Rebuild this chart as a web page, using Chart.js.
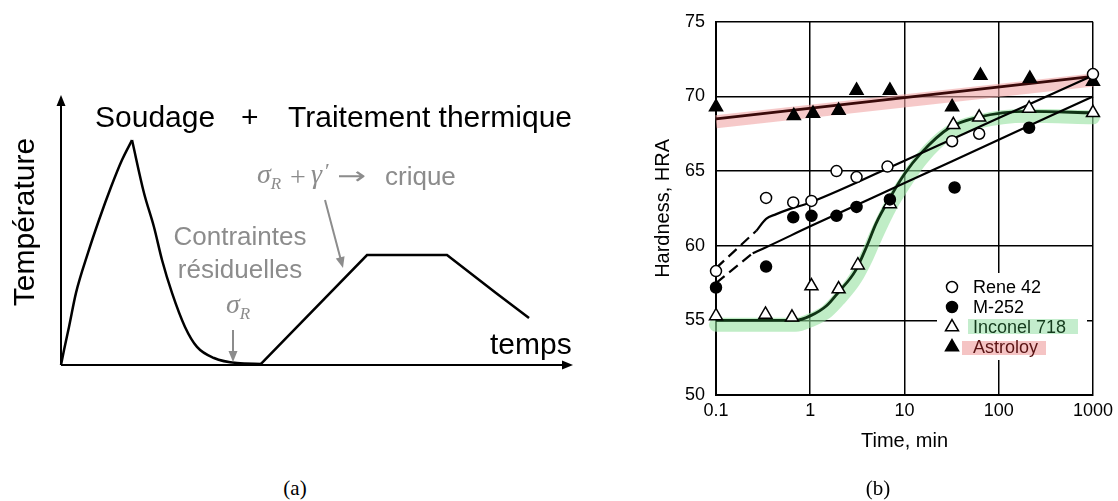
<!DOCTYPE html>
<html>
<head>
<meta charset="utf-8">
<script src="https://cdn.jsdelivr.net/npm/chart.js@4.4.1/dist/chart.umd.min.js"></script>
<style>
  html, body { margin: 0; padding: 0; background: #fff; }
  body { width: 1118px; height: 501px; position: relative; overflow: hidden; }
  #chartA { position: absolute; left: 0; top: 0; }
  #chartB { position: absolute; left: 620px; top: 0; }
  .cap { position: absolute; top: 476px; width: 60px; text-align: center;
         font-family: 'Liberation Serif', serif; font-size: 21px; line-height: 24px; color: #000; }
</style>
</head>
<body>
<canvas id="chartA" width="600" height="460"></canvas>
<canvas id="chartB" width="498" height="501"></canvas>
<div class="cap" style="left:265px">(a)</div>
<div class="cap" style="left:848px">(b)</div>

<script>
// ---- (a) schematic, arbitrary units (0-100 on both axes) ----
const weldRiseTime = [0, 0.59, 1.56, 2.93, 5.27, 7.42, 9.77, 11.91, 13.87];
const weldRiseTemp = [0, 5.6, 14.1, 26.7, 41.5, 53.7, 65.9, 75.9, 83.3];
const weldFallTime = [13.87, 16.21, 18.16, 19.73, 21.68, 24.22, 26.56, 29.88, 34.38, 39.06];
const weldFallTemp = [83.3, 63.7, 51.1, 38.9, 26.7, 14.1, 6.7, 2.6, 0.7, 0.4];
const heatTime = [39.06, 59.77, 75.39, 84.96, 91.41];
const heatTemp = [0.4, 40.7, 40.7, 26.7, 17.4];

// ---- (b) hardness vs time ----
const xTickValues = [0.1, 1, 10, 100, 1000];
const xTickLabels = ['0.1', '1', '10', '100', '1000'];

const reneTime = [0.1, 0.34, 0.66, 1.03, 1.9, 3.1, 6.6, 32, 62, 1000];
const reneHRA = [58.3, 63.2, 62.9, 63.0, 65.0, 64.6, 65.3, 67.0, 67.5, 71.5];
const m252Time = [0.1, 0.34, 0.66, 1.03, 1.9, 3.1, 7.0, 34, 210];
const m252HRA = [57.2, 58.6, 61.9, 62.0, 62.0, 62.6, 63.1, 63.9, 67.9];
const inconelTime = [0.1, 0.335, 0.64, 1.03, 2.0, 3.2, 7.0, 33, 62, 210, 1000];
const inconelHRA = [55.3, 55.4, 55.2, 57.3, 57.1, 58.7, 62.8, 68.1, 68.6, 69.2, 68.9];
const astroTime = [0.1, 0.67, 1.07, 2.0, 3.1, 7.0, 32, 64, 214, 1000];
const astroHRA = [69.3, 68.7, 68.85, 69.05, 70.4, 70.4, 69.3, 71.4, 71.2, 71.0];

// fitted curves
const reneDashTime = [0.1, 0.268];
const reneDashHRA = [58.5, 61.0];
const reneFitTime = [0.268, 0.34, 0.43, 0.6, 1, 10, 100, 1000];
const reneFitHRA = [61.0, 61.8, 62.1, 62.45, 62.9, 65.7, 68.55, 71.4];
const m252DashTime = [0.1, 0.245];
const m252DashHRA = [57.5, 59.5];
const m252FitTime = [0.245, 0.34, 1, 10, 100, 1000];
const m252FitHRA = [59.5, 59.9, 61.3, 64.2, 67.1, 70.0];
const inconelFitTime = [0.1, 0.7, 1.0, 1.5, 2.0, 3.0, 4.0, 5.0, 7.0, 10, 15, 30, 60, 200, 1000];
const inconelFitHRA = [55.0, 55.0, 55.3, 56.0, 56.9, 58.3, 60.0, 61.5, 63.2, 64.8, 66.2, 67.9, 68.6, 69.0, 68.9];
const inconelBandHRA = [54.7, 54.7, 55.0, 55.6, 56.4, 57.8, 59.3, 60.7, 62.6, 64.2, 65.8, 67.6, 68.3, 68.7, 68.6];
const astroFitTime = [0.1, 1000];
const astroFitHRA = [68.5, 71.35];
const astroBandHRA = [68.3, 71.1];

const legendNames = ['Rene 42', 'M-252', 'Inconel 718', 'Astroloy'];

function pts(xs, ys) {
  return xs.map((x, i) => ({ x: x, y: ys[i] }));
}

function arrow(ctx, x1, y1, x2, y2, len, half) {
  const a = Math.atan2(y2 - y1, x2 - x1);
  ctx.beginPath();
  ctx.moveTo(x1, y1);
  ctx.lineTo(x2 - Math.cos(a) * len * 0.8, y2 - Math.sin(a) * len * 0.8);
  ctx.stroke();
  ctx.beginPath();
  ctx.moveTo(x2, y2);
  ctx.lineTo(x2 - Math.cos(a) * len - Math.sin(a) * half, y2 - Math.sin(a) * len + Math.cos(a) * half);
  ctx.lineTo(x2 - Math.cos(a) * len + Math.sin(a) * half, y2 - Math.sin(a) * len - Math.cos(a) * half);
  ctx.closePath();
  ctx.fill();
}

function sigmaR(ctx, x, y) {
  ctx.font = 'italic 28px "Liberation Serif"';
  ctx.fillText('σ', x, y);
  const w = ctx.measureText('σ').width;
  ctx.font = 'italic 17px "Liberation Serif"';
  ctx.fillText('R', x + w, y + 6);
  return x + w + ctx.measureText('R').width;
}

const sketchPlugin = {
  id: 'sketch',
  afterDraw(chart) {
    const ctx = chart.ctx;
    const a = chart.chartArea;
    ctx.save();
    // axes with arrow heads
    ctx.strokeStyle = '#000';
    ctx.fillStyle = '#000';
    ctx.lineWidth = 2;
    arrow(ctx, a.left, a.bottom, a.left, a.top, 11, 4.5);
    arrow(ctx, a.left, a.bottom, a.right, a.bottom, 11, 4.5);

    ctx.textBaseline = 'alphabetic';
    ctx.font = '30px "Liberation Sans"';
    ctx.fillText('Soudage', 95, 127);
    ctx.fillText('+', 241, 127);
    ctx.fillText('Traitement thermique', 288, 127);
    ctx.fillText('temps', 490, 354);

    ctx.save();
    ctx.translate(34, 222);
    ctx.rotate(-Math.PI / 2);
    ctx.textAlign = 'center';
    ctx.fillText('Température', 0, 0);
    ctx.restore();

    // grey annotations
    const grey = '#8c8c8c';
    ctx.fillStyle = grey;
    ctx.strokeStyle = grey;
    ctx.textAlign = 'center';
    ctx.font = '26px "Liberation Sans"';
    ctx.fillText('Contraintes', 240, 245);
    ctx.fillText('résiduelles', 240, 278);
    ctx.textAlign = 'left';
    sigmaR(ctx, 226, 313);

    sigmaR(ctx, 257, 183);
    ctx.font = '28px "Liberation Serif"';
    ctx.fillText('+', 290, 186);
    ctx.font = 'italic 28px "Liberation Serif"';
    ctx.fillText('γ', 311, 183);
    ctx.font = '22px "Liberation Serif"';
    ctx.fillText('′', 325, 178);
    ctx.save();
    ctx.translate(337, 184);
    ctx.scale(1.45, 1);
    ctx.font = '24px "DejaVu Sans"';
    ctx.fillText('→', 0, 0);
    ctx.restore();
    ctx.font = '26px "Liberation Sans"';
    ctx.fillText('crique', 385, 185);

    ctx.lineWidth = 2;
    arrow(ctx, 325, 200, 343, 268, 11, 4.5);
    arrow(ctx, 233, 330, 233, 362, 11, 4.5);
    ctx.restore();
  }
};

const lineStyle = { showLine: true, pointRadius: 0, borderColor: '#000', borderWidth: 2.5,
                    cubicInterpolationMode: 'monotone', clip: false };

new Chart(document.getElementById('chartA'), {
  type: 'scatter',
  data: {
    datasets: [
      Object.assign({ data: pts(weldRiseTime, weldRiseTemp) }, lineStyle),
      Object.assign({ data: pts(weldFallTime, weldFallTemp) }, lineStyle),
      Object.assign({ data: pts(heatTime, heatTemp) }, lineStyle, { cubicInterpolationMode: 'default', tension: 0 })
    ]
  },
  options: {
    responsive: false,
    animation: false,
    events: [],
    layout: { padding: { left: 61, right: 27, top: 95, bottom: 95 } },
    plugins: { legend: { display: false }, tooltip: { enabled: false } },
    scales: {
      x: { type: 'linear', min: 0, max: 100, display: false },
      y: { type: 'linear', min: 0, max: 100, display: false }
    }
  },
  plugins: [sketchPlugin]
});

// ---- chart (b) ----
const legendPlugin = {
  id: 'hardLegend',
  afterDraw(chart) {
    const ctx = chart.ctx;
    const L = chart.chartArea.left;
    ctx.save();
    ctx.fillStyle = '#fff';
    ctx.fillRect(L + 221, 273, 150, 87);
    ctx.fillStyle = 'rgba(190, 235, 200, 0.9)';
    ctx.fillRect(L + 252, 319, 110, 15);
    ctx.fillStyle = 'rgba(244, 190, 190, 0.9)';
    ctx.fillRect(L + 246, 341, 84, 14);

    const marks = [
      { pointStyle: 'circle', radius: 5.5, fill: '#fff' },
      { pointStyle: 'circle', radius: 5.5, fill: '#000' },
      { pointStyle: 'triangle', radius: 7.5, fill: '#fff' },
      { pointStyle: 'triangle', radius: 7.5, fill: '#000' }
    ];
    const textColors = ['#000', '#000', '#143a1c', '#5a1414'];
    ctx.font = '18px "Liberation Sans"';
    ctx.textBaseline = 'middle';
    legendNames.forEach((name, i) => {
      const y = 287 + i * 20;
      ctx.fillStyle = marks[i].fill;
      ctx.strokeStyle = '#000';
      ctx.lineWidth = 1.5;
      Chart.helpers.drawPoint(ctx, { pointStyle: marks[i].pointStyle, radius: marks[i].radius,
                                     rotation: 0, borderWidth: 1.5 }, L + 236, y);
      ctx.fillStyle = textColors[i];
      ctx.fillText(name, L + 257, y + 1);
    });
    ctx.restore();
  }
};

const axisFont = { family: 'Liberation Sans', size: 18 };
const titleFont = { family: 'Liberation Sans', size: 20 };

new Chart(document.getElementById('chartB'), {
  type: 'scatter',
  data: {
    datasets: [
      // markers
      { data: pts(reneTime, reneHRA), pointStyle: 'circle', pointRadius: 5.5, pointBackgroundColor: '#fff',
        pointBorderColor: '#000', pointBorderWidth: 1.5, order: 0, clip: false },
      { data: pts(m252Time, m252HRA), pointStyle: 'circle', pointRadius: 5.5, pointBackgroundColor: '#000',
        pointBorderColor: '#000', pointBorderWidth: 1.5, order: 0, clip: false },
      { data: pts(inconelTime, inconelHRA), pointStyle: 'triangle', pointRadius: 7.5, pointBackgroundColor: '#fff',
        pointBorderColor: '#000', pointBorderWidth: 1.5, order: 0, clip: false },
      { data: pts(astroTime, astroHRA), pointStyle: 'triangle', pointRadius: 7.5, pointBackgroundColor: '#000',
        pointBorderColor: '#000', pointBorderWidth: 1.5, order: 0, clip: false },
      // fitted lines
      { data: pts(reneDashTime, reneDashHRA), showLine: true, pointRadius: 0, borderColor: '#000',
        borderWidth: 2.2, borderDash: [11, 6], order: 1, clip: false },
      { data: pts(reneFitTime, reneFitHRA), showLine: true, pointRadius: 0, borderColor: '#000',
        borderWidth: 2.2, cubicInterpolationMode: 'monotone', order: 1, clip: false },
      { data: pts(m252DashTime, m252DashHRA), showLine: true, pointRadius: 0, borderColor: '#000',
        borderWidth: 2.2, borderDash: [11, 6], order: 1, clip: false },
      { data: pts(m252FitTime, m252FitHRA), showLine: true, pointRadius: 0, borderColor: '#000',
        borderWidth: 2.2, cubicInterpolationMode: 'monotone', order: 1, clip: false },
      { data: pts(inconelFitTime, inconelFitHRA), showLine: true, pointRadius: 0, borderColor: '#0f3314',
        borderWidth: 2.8, cubicInterpolationMode: 'monotone', order: 1, clip: false },
      { data: pts(astroFitTime, astroFitHRA), showLine: true, pointRadius: 0, borderColor: '#3a0a0a',
        borderWidth: 2.8, order: 1, clip: false },
      // highlight bands
      { data: pts(inconelFitTime, inconelBandHRA), showLine: true, pointRadius: 0,
        borderColor: 'rgba(150, 225, 160, 0.6)', borderWidth: 14, cubicInterpolationMode: 'monotone',
        borderCapStyle: 'round', order: 2, clip: false },
      { data: pts(astroFitTime, astroBandHRA), showLine: true, pointRadius: 0,
        borderColor: 'rgba(240, 165, 165, 0.6)', borderWidth: 13, order: 2, clip: false }
    ]
  },
  options: {
    responsive: false,
    animation: false,
    events: [],
    layout: { padding: { top: 17, right: 21, bottom: 46, left: 0 } },
    plugins: { legend: { display: false }, tooltip: { enabled: false } },
    scales: {
      x: {
        type: 'logarithmic', min: 0.1, max: 1000,
        afterBuildTicks: s => { s.ticks = xTickValues.map(v => ({ value: v })); },
        afterFit: s => { s.height = 60; },
        ticks: { callback: v => xTickLabels[xTickValues.indexOf(v)], color: '#000', font: axisFont,
                 padding: 5, maxRotation: 0, autoSkip: false },
        grid: { color: '#000', lineWidth: 1.5, drawTicks: false },
        border: { color: '#000', width: 2 },
        title: { display: true, text: 'Time, min', color: '#000',
                 font: titleFont, padding: { top: 0, bottom: 2 } }
      },
      y: {
        min: 50, max: 75,
        afterFit: s => { s.width = 96; },
        ticks: { stepSize: 5, color: '#000', font: axisFont, padding: 11 },
        grid: { color: '#000', lineWidth: 1.5, drawTicks: false },
        border: { color: '#000', width: 2 },
        title: { display: true, text: 'Hardness, HRA', color: '#000',
                 font: titleFont, padding: { top: 31, bottom: 0 } }
      }
    }
  },
  plugins: [legendPlugin]
});
</script>
</body>
</html>
